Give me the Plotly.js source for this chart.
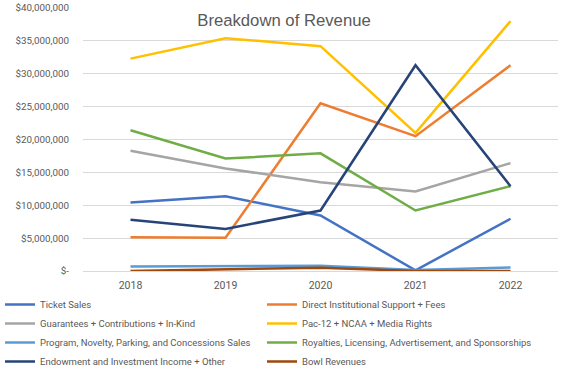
<!DOCTYPE html>
<html>
<head>
<meta charset="utf-8">
<script src="https://cdn.plot.ly/plotly-3.0.1.min.js"></script>
<style>html,body{margin:0;padding:0;background:#fff;}#chart{width:568px;height:379px;}</style>
</head>
<body>
<div id="chart"></div>
<script>
var years = ["2018", "2019", "2020", "2021", "2022"];
var seriesNames = [
  "Ticket Sales",
  "Direct Institutional Support + Fees",
  "Guarantees + Contributions + In-Kind",
  "Pac-12 + NCAA + Media Rights",
  "Program, Novelty, Parking, and Concessions Sales",
  "Royalties, Licensing, Advertisement, and Sponsorships",
  "Endowment and Investment Income + Other",
  "Bowl Revenues"
];
var ticketSales = [10400000, 11350000, 8450000, 100000, 7950000];
var directSupport = [5150000, 5050000, 25500000, 20500000, 31300000];
var guarantees = [18300000, 15600000, 13500000, 12100000, 16400000];
var pac12 = [32300000, 35400000, 34200000, 21000000, 38000000];
var programSales = [700000, 800000, 800000, 150000, 550000];
var royalties = [21400000, 17100000, 17900000, 9200000, 12900000];
var endowment = [7800000, 6400000, 9200000, 31300000, 12900000];
var bowl = [0, 300000, 500000, 0, 0];
var colors = ["#4472C4", "#ED7D31", "#A5A5A5", "#FFC000", "#5B9BD5", "#70AD47", "#264478", "#9E480E"];
var yTickVals = [0, 5000000, 10000000, 15000000, 20000000, 25000000, 30000000, 35000000, 40000000];
var yTickText = ["$-", "$5,000,000", "$10,000,000", "$15,000,000", "$20,000,000", "$25,000,000", "$30,000,000", "$35,000,000", "$40,000,000"];

var allSeries = [ticketSales, directSupport, guarantees, pac12, programSales, royalties, endowment, bowl];
var font = "Roboto, 'Liberation Sans', Arial, sans-serif";
var traces = allSeries.map(function (vals, i) {
  return {
    type: "scatter", mode: "lines", x: years, y: vals, name: seriesNames[i],
    line: {color: colors[i], width: 2.5},
    legend: (i % 2 === 0) ? "legend" : "legend2"
  };
});
var legendBase = {orientation: "v", xref: "container", yref: "container", xanchor: "left", yanchor: "top",
  y: 1 - 290 / 379, font: {family: font, size: 9.5, color: "#595959"}, bgcolor: "rgba(0,0,0,0)", borderwidth: 0,
  tracegroupgap: 0, itemwidth: 30};
var legend1 = Object.assign({}, legendBase, {x: 0});
var legend2 = Object.assign({}, legendBase, {x: 262 / 568});
var layout = {
  width: 568, height: 379,
  margin: {l: 83, r: 10, t: 8, b: 108, autoexpand: false},
  paper_bgcolor: "#fff", plot_bgcolor: "#fff",
  font: {family: font, size: 10, color: "#595959"},
  title: {text: "Breakdown of Revenue", x: 0.5, xref: "container", xanchor: "center", y: 1 - 20 / 379, yref: "container", yanchor: "middle",
          font: {family: "'Liberation Sans', Arial, sans-serif", size: 16.7, color: "#595959"}},
  xaxis: {type: "category", range: [-0.5, 4.5], automargin: false, showgrid: false, zeroline: false, showline: false, ticks: "",
          ticklabelstandoff: 6, tickfont: {family: font, size: 10.5, color: "#595959"}},
  yaxis: {range: [0, 40000000], automargin: false, tickvals: yTickVals, ticktext: yTickText, showgrid: true, gridcolor: "#D9D9D9", gridwidth: 1,
          zeroline: true, zerolinecolor: "#D9D9D9", zerolinewidth: 1, showline: false, ticks: "", ticklabelstandoff: 13,
          tickfont: {family: font, size: 9.8, color: "#595959"}},
  showlegend: true,
  legend: legend1,
  legend2: legend2
};
Plotly.newPlot("chart", traces, layout, {displayModeBar: false, staticPlot: true});
</script>
</body>
</html>
